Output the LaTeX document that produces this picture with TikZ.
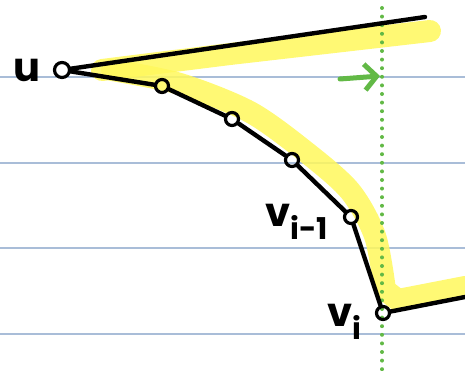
\documentclass[tikz,border=0pt]{standalone}
\usepackage{tikz}
\usetikzlibrary{arrows.meta,positioning}
\usepackage{fontspec}
\setmainfont{Poppins}
\definecolor{rule}{HTML}{A9BDD8}
\definecolor{mark}{HTML}{FFF85C}
\definecolor{guide}{HTML}{62B946}
\tikzset{
  pt/.style={draw=black, circle, line width=3.2pt, minimum size=13pt, inner sep=0pt, fill=none},
  edge/.style={draw=black, line width=4.4pt, line join=round, line cap=round},
  hl/.style={draw=mark, line width=22pt, line cap=round, line join=round, opacity=0.85},
  ruleline/.style={draw=rule, line width=1.3pt},
  guideline/.style={draw=guide, line width=4pt, line cap=round, dash pattern=on 0pt off 8.6pt},
  guidearrow/.style={draw=guide, line width=5pt, line cap=round, -{Straight Barb[length=12pt,width=26pt,line width=5pt]}},
  lbl/.style={font=\bfseries\fontsize{40}{40}\selectfont, inner sep=0pt}
}
\begin{document}
\begin{tikzpicture}[x=1pt,y=-1pt]
  \useasboundingbox (0,0) rectangle (465,371);

  % notebook rules
  \foreach \yy in {77,163,248,334}
    \draw[ruleline] (0,\yy) -- (465,\yy);

  % highlighter strokes
  \draw[hl] (102,70) -- (230,54) -- (430,31);
  \draw[hl] plot[smooth] coordinates {(112,70) (180,84) (250,112) (306,152) (350,191) (375,236) (385,290)}
     -- (398,300) -- (465,287);

  % sweep line
  \draw[guideline] (382,8) -- (382,371);
  \coordinate (arrowfrom) at (340,79);
  \coordinate (arrowto) at (380,76);
  \draw[guidearrow] (arrowfrom) -- (arrowto);

  % vertices
  \node[pt, minimum height=15pt] (u) at (62,70) {};
  \node[pt] (w1) at (162,86) {};
  \node[pt] (w2) at (232,119) {};
  \node[pt] (w3) at (292,160) {};
  \node[pt] (vprev) at (351,217) {};
  \node[pt] (vi) at (383,313) {};
  \coordinate (topend) at (425,17);
  \coordinate (tail) at (465,297);

  \draw[edge] (u) -- (topend);
  \draw[edge] (u) -- (w1) -- (w2) -- (w3) -- (vprev) -- (vi) -- (tail);

  % labels
  \node[lbl, left=12pt of u] (ulbl) {u};
  \node[lbl, anchor=east] (vprevlbl) at (328,222) {v\raisebox{-13pt}{\fontsize{30}{30}\selectfont i-1}};
  \node[lbl, anchor=east] (vilbl) at (362,322) {v\raisebox{-13pt}{\fontsize{30}{30}\selectfont i}};
\end{tikzpicture}
\end{document}
